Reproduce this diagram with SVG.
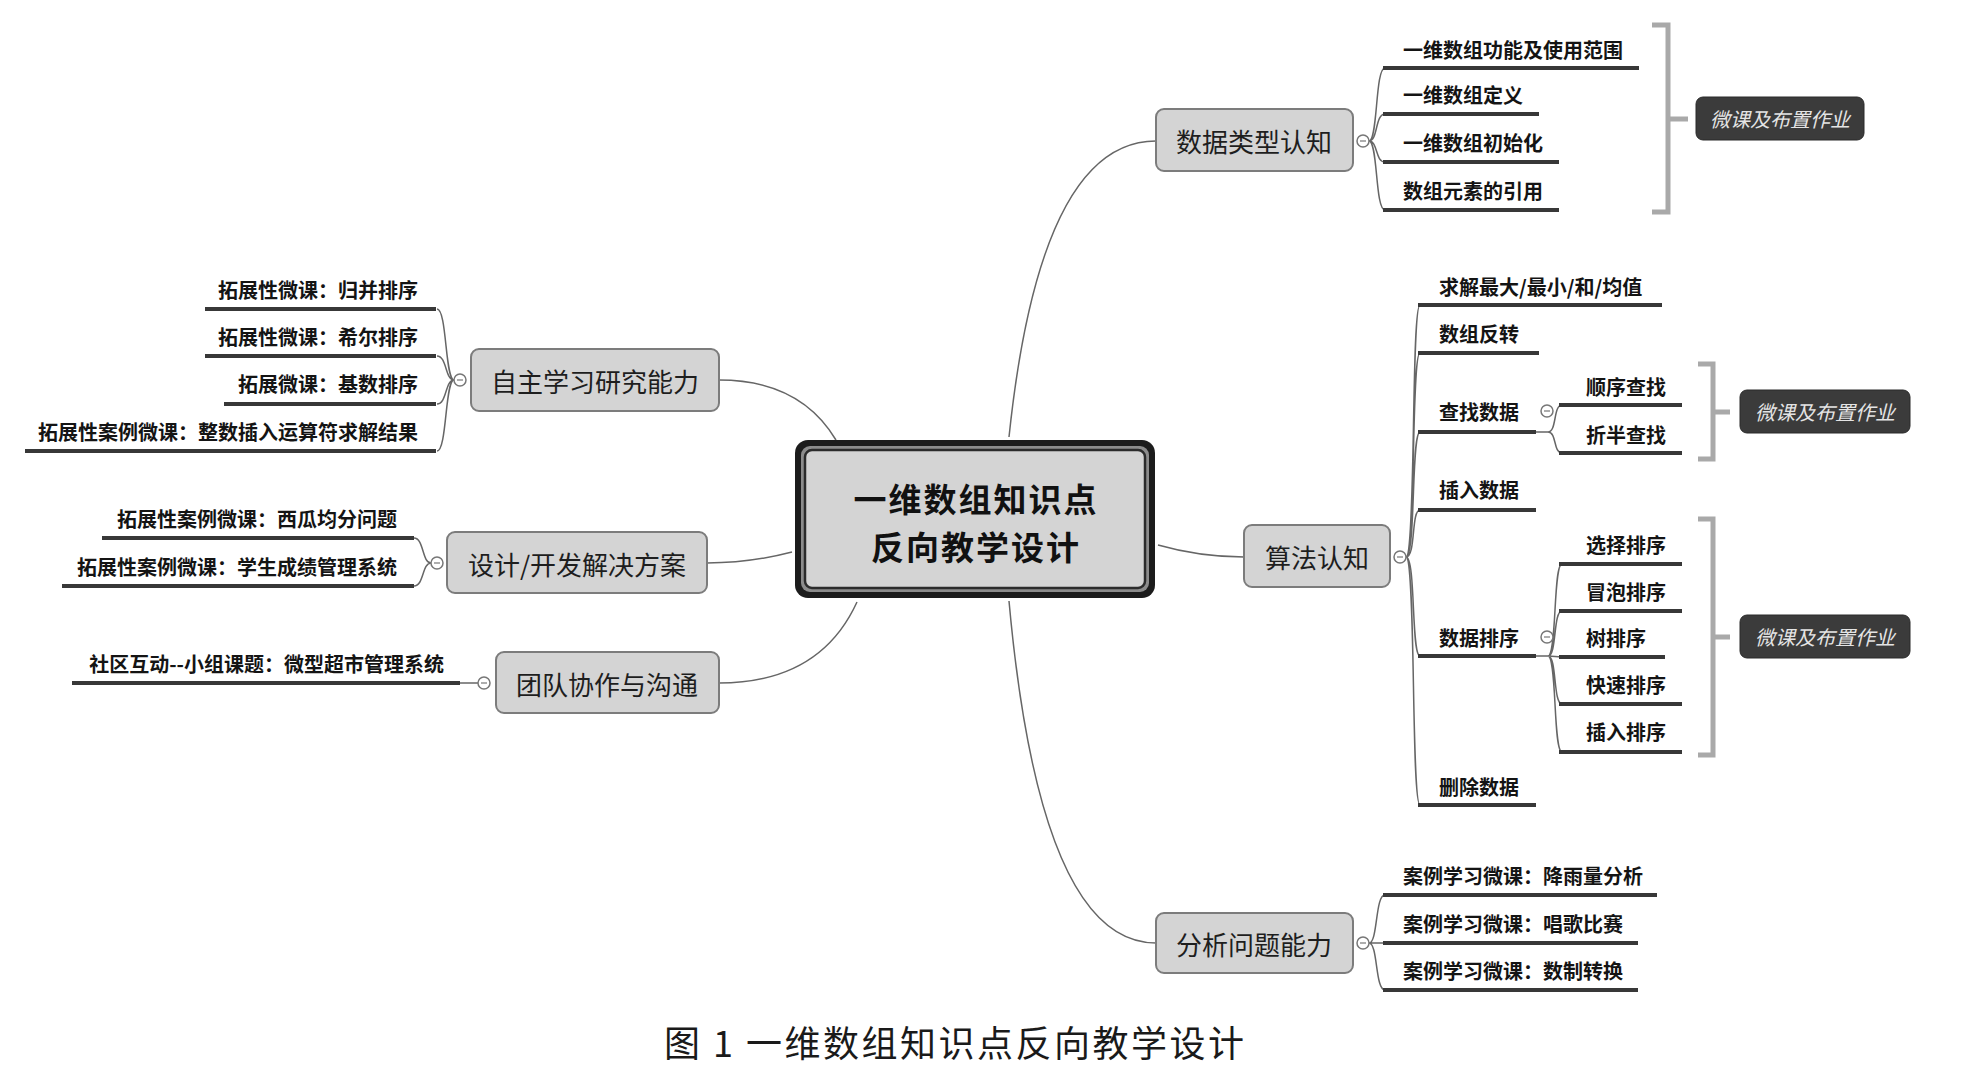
<svg xmlns="http://www.w3.org/2000/svg" width="1971" height="1070" viewBox="0 0 1971 1070">
<style>
text{font-family:"Noto Sans CJK SC","Noto Sans",sans-serif;dominant-baseline:central}
.box{fill:#d4d4d4;stroke:#7c7c7c;stroke-width:2}
.bt{font-size:26px;fill:#1e1e1e;text-anchor:middle}
.ct{font-size:20px;font-weight:bold;fill:#141414}
.r{text-anchor:end}
.ul{stroke:#383838;stroke-width:4;fill:none}
.cn{stroke:#666;stroke-width:1.5;fill:none}
.btn{fill:#fff;stroke:#777;stroke-width:1.5}
.br{stroke:#a9a9a9;stroke-width:5;fill:none}
.co{fill:#3b3b3b;stroke:#2a2a2a;stroke-width:1}
.cot{font-size:20px;font-style:italic;fill:#e4e4e4;text-anchor:middle}
.mt{font-size:33px;font-weight:bold;fill:#111;text-anchor:middle;letter-spacing:2px}
</style>
<rect width="1971" height="1070" fill="#fff"/>
<g id="connectors">
<path class="cn" d="M1009,437 Q1040,141 1156,141"/>
<path class="cn" d="M1158,545 Q1200,557 1244,557"/>
<path class="cn" d="M1009,601 Q1040,943 1156,943"/>
<path class="cn" d="M836,440 Q800,380 719,380"/>
<path class="cn" d="M792,552 Q750,563 707,563"/>
<path class="cn" d="M857,602 Q820,683 719,683"/>
<path class="cn" d="M1369,141 C1378,141 1375,68 1385,68 M1369,141 C1378,141 1375,114 1385,114 M1369,141 C1378,141 1375,162 1385,162 M1369,141 C1378,141 1375,210 1385,210"/>
<path class="cn" d="M1406,557 C1416,557 1411,305 1420,305 M1406,557 C1416,557 1411,353 1420,353 M1406,557 C1416,557 1411,432 1420,432 M1406,557 C1416,557 1411,510 1420,510 M1406,557 C1416,557 1411,656 1420,656 M1406,557 C1416,557 1411,805 1420,805"/>
<path class="cn" d="M1536,432 L1548,432 C1557,432 1553,405 1562,405 M1548,432 C1557,432 1553,453 1562,453"/>
<path class="cn" d="M1536,656 L1548,656 C1557,656 1553,564 1562,564 M1548,656 C1557,656 1553,611 1562,611 M1548,656 L1562,657 M1548,656 C1557,656 1553,704 1562,704 M1548,656 C1557,656 1553,752 1562,752"/>
<path class="cn" d="M1369,943 C1378,943 1375,895 1385,895 M1369,943 L1385,943 M1369,943 C1378,943 1375,990 1385,990"/>
<path class="cn" d="M454,380 C445,380 447,309 437,309 M454,380 C445,380 447,356 437,356 M454,380 C445,380 447,404 437,404 M454,380 C445,380 447,451 437,451"/>
<path class="cn" d="M431,563 C422,563 424,538 414,538 M431,563 C422,563 424,586 414,586"/>
<path class="cn" d="M478,683 L460,683"/>
</g>
<g id="center">
<rect x="795" y="440" width="360" height="158" rx="13" fill="#1c1c1c"/>
<rect x="801" y="446" width="348" height="146" rx="9" fill="#8c8c8c"/>
<rect x="805" y="450" width="340" height="138" rx="7" fill="#d4d4d4" stroke="#2b2b2b" stroke-width="2.5"/>
<text class="mt" x="976" y="498">一维数组知识点</text>
<text class="mt" x="976" y="546">反向教学设计</text>
</g>
<g id="n-shujuleixing">
<rect class="box" x="1156" y="109" width="197" height="62" rx="8"/>
<text class="bt" x="1254" y="140">数据类型认知</text>
<circle class="btn" cx="1363" cy="141" r="6"/><path d="M1360,141 H1366" stroke="#777" stroke-width="1.2"/>
</g>
<g id="n-dt-children">
<path class="ul" d="M1383,68 H1639 M1383,114 H1539 M1383,162 H1559 M1383,210 H1559"/>
<text class="ct" x="1403" y="49">一维数组功能及使用范围</text>
<text class="ct" x="1403" y="94">一维数组定义</text>
<text class="ct" x="1403" y="142">一维数组初始化</text>
<text class="ct" x="1403" y="190">数组元素的引用</text>
</g>
<g id="callout1">
<path class="br" d="M1652,25 H1668 V212 H1652 M1668,119 H1688"/>
<rect class="co" x="1696" y="97" width="168" height="43" rx="7"/>
<text class="cot" x="1780" y="118.5">微课及布置作业</text>
</g>
<g id="n-suanfa">
<rect class="box" x="1244" y="525" width="146" height="62" rx="8"/>
<text class="bt" x="1317" y="556">算法认知</text>
<circle class="btn" cx="1400" cy="557" r="6"/><path d="M1397,557 H1403" stroke="#777" stroke-width="1.2"/>
</g>
<g id="n-sf-children">
<path class="ul" d="M1418,305 H1662 M1418,353 H1539 M1418,432 H1536 M1418,510 H1536 M1418,656 H1536 M1418,805 H1536"/>
<text class="ct" x="1439" y="286">求解最大/最小/和/均值</text>
<text class="ct" x="1439" y="333">数组反转</text>
<text class="ct" x="1439" y="411">查找数据</text>
<text class="ct" x="1439" y="489">插入数据</text>
<text class="ct" x="1439" y="637">数据排序</text>
<text class="ct" x="1439" y="786">删除数据</text>
<circle class="btn" cx="1547" cy="411" r="6"/><path d="M1544,411 H1550" stroke="#777" stroke-width="1.2"/>
<circle class="btn" cx="1547" cy="637" r="6"/><path d="M1544,637 H1550" stroke="#777" stroke-width="1.2"/>
</g>
<g id="n-search-children">
<path class="ul" d="M1559,405 H1682 M1559,453 H1682"/>
<text class="ct" x="1586" y="386">顺序查找</text>
<text class="ct" x="1586" y="434">折半查找</text>
</g>
<g id="callout2">
<path class="br" d="M1698,364 H1713 V459 H1698 M1713,412 H1730"/>
<rect class="co" x="1740" y="390" width="170" height="43" rx="7"/>
<text class="cot" x="1825" y="411.5">微课及布置作业</text>
</g>
<g id="n-sort-children">
<path class="ul" d="M1559,564 H1682 M1559,611 H1682 M1559,657 H1665 M1559,704 H1682 M1559,752 H1682"/>
<text class="ct" x="1586" y="544">选择排序</text>
<text class="ct" x="1586" y="591">冒泡排序</text>
<text class="ct" x="1586" y="637">树排序</text>
<text class="ct" x="1586" y="684">快速排序</text>
<text class="ct" x="1586" y="731">插入排序</text>
</g>
<g id="callout3">
<path class="br" d="M1698,519 H1713 V755 H1698 M1713,637 H1730"/>
<rect class="co" x="1740" y="615" width="170" height="43" rx="7"/>
<text class="cot" x="1825" y="636.5">微课及布置作业</text>
</g>
<g id="n-fenxi">
<rect class="box" x="1156" y="913" width="197" height="60" rx="8"/>
<text class="bt" x="1254" y="943">分析问题能力</text>
<circle class="btn" cx="1363" cy="943" r="6"/><path d="M1360,943 H1366" stroke="#777" stroke-width="1.2"/>
</g>
<g id="n-fx-children">
<path class="ul" d="M1383,895 H1657 M1383,943 H1638 M1383,990 H1638"/>
<text class="ct" x="1403" y="875">案例学习微课：降雨量分析</text>
<text class="ct" x="1403" y="923">案例学习微课：唱歌比赛</text>
<text class="ct" x="1403" y="970">案例学习微课：数制转换</text>
</g>
<g id="n-zizhu">
<rect class="box" x="471" y="349" width="248" height="62" rx="8"/>
<text class="bt" x="595" y="380">自主学习研究能力</text>
<circle class="btn" cx="460" cy="380" r="6"/><path d="M457,380 H463" stroke="#777" stroke-width="1.2"/>
</g>
<g id="n-zz-children">
<path class="ul" d="M205,309 H436 M205,356 H436 M224,404 H436 M25,451 H436"/>
<text class="ct r" x="418" y="289">拓展性微课：归并排序</text>
<text class="ct r" x="418" y="336">拓展性微课：希尔排序</text>
<text class="ct r" x="418" y="383">拓展微课：基数排序</text>
<text class="ct r" x="418" y="431">拓展性案例微课：整数插入运算符求解结果</text>
</g>
<g id="n-sheji">
<rect class="box" x="447" y="532" width="260" height="61" rx="8"/>
<text class="bt" x="577" y="563">设计/开发解决方案</text>
<circle class="btn" cx="437" cy="563" r="6"/><path d="M434,563 H440" stroke="#777" stroke-width="1.2"/>
</g>
<g id="n-sj-children">
<path class="ul" d="M102,538 H414 M62,586 H414"/>
<text class="ct r" x="397" y="518">拓展性案例微课：西瓜均分问题</text>
<text class="ct r" x="397" y="566">拓展性案例微课：学生成绩管理系统</text>
</g>
<g id="n-tuandui">
<rect class="box" x="496" y="652" width="223" height="61" rx="8"/>
<text class="bt" x="607" y="683">团队协作与沟通</text>
<circle class="btn" cx="484" cy="683" r="6"/><path d="M481,683 H487" stroke="#777" stroke-width="1.2"/>
</g>
<g id="n-td-children">
<path class="ul" d="M72,683 H460"/>
<text class="ct r" x="444" y="663">社区互动--小组课题：微型超市管理系统</text>
</g>
<g id="caption">
<text x="664" y="1041" style="font-size:36px;fill:#1a1a1a;letter-spacing:2.5px">图 1 一维数组知识点反向教学设计</text>
</g>
</svg>
